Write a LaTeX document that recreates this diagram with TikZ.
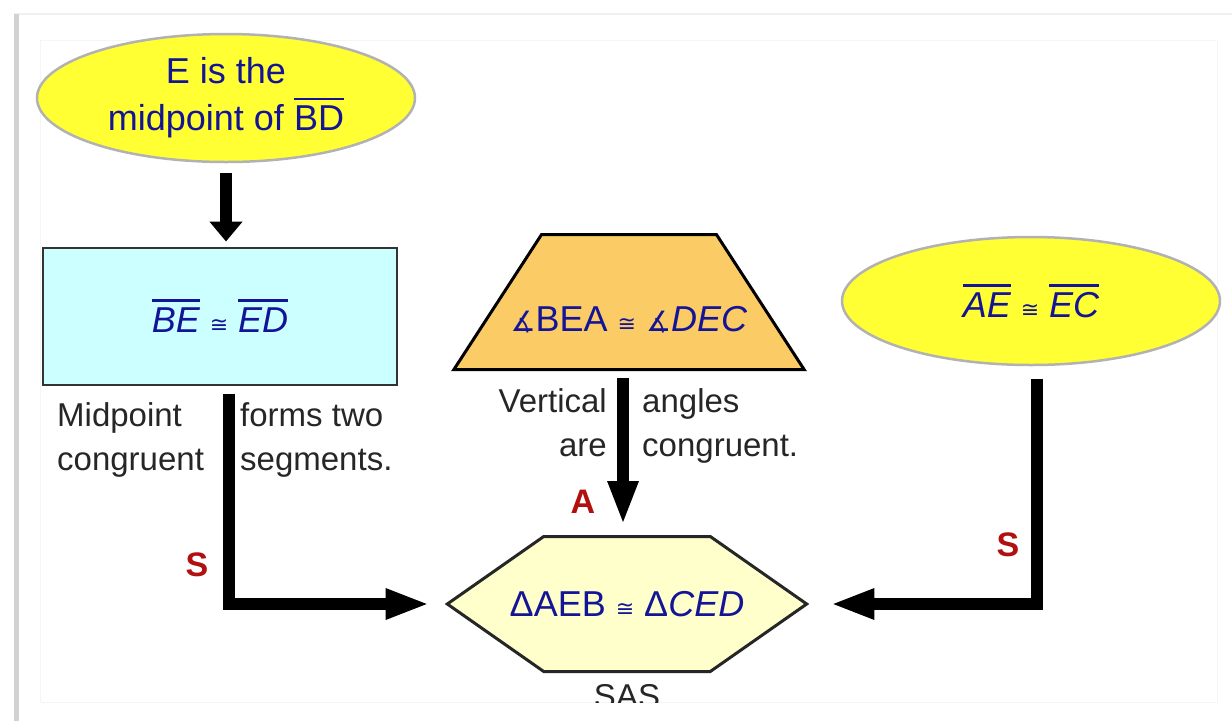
\documentclass[tikz,border=0pt]{standalone}
\usepackage{fontspec}
\setmainfont{Liberation Sans}
\newfontfamily\symfont{DejaVu Sans}
\usetikzlibrary{arrows.meta,shapes,positioning}

\definecolor{givenyellow}{RGB}{255,255,51}
\definecolor{stepcyan}{RGB}{204,255,255}
\definecolor{steporange}{RGB}{251,203,102}
\definecolor{proofcream}{RGB}{255,255,204}
\definecolor{mathblue}{RGB}{20,20,150}
\definecolor{markred}{RGB}{176,16,16}

\newcommand{\seg}[1]{\leavevmode\vbox{\hrule height 2.5pt\kern 6pt\hbox{#1}}}
\newcommand{\congsym}{{\symfont\fontsize{22}{24}\selectfont ≅}}
\newcommand{\angsym}{{\symfont\fontsize{28}{30}\selectfont ∡}}

\begin{document}
\begin{tikzpicture}[x=1pt,y=-1pt,
	basic/.style    = {draw, line width=2.5pt, inner sep=0pt, align=center, text=mathblue, font=\fontsize{36}{47}\selectfont},
	given/.style    = {basic, ellipse, fill=givenyellow, draw=gray!60, minimum width=378pt, minimum height=128pt},
	reason/.style   = {basic, rectangle, fill=stepcyan, draw=black!80, line width=2pt, minimum width=354pt, minimum height=137pt},
	anglebox/.style = {basic, trapezium, trapezium angle=57, fill=steporange, draw=black, line width=3pt, inner xsep=-31pt, text height=96.5pt, text depth=38.5pt},
	result/.style   = {basic, signal, signal to=west and east, signal pointer angle=70, fill=proofcream, draw=black!85, line width=3pt, inner xsep=-34pt, minimum height=135pt},
	note/.style     = {inner sep=0pt, text=black!85, font=\fontsize{33}{44}\selectfont},
	letter/.style   = {inner sep=0pt, text=markred, font=\bfseries\fontsize{34}{40}\selectfont},
	flow/.style     = {line width=12pt, -{Triangle[length=44pt,width=28pt]}},
	>=latex]

	\useasboundingbox (0,0) rectangle (1232,721);
	% page frame
	\draw[gray!12, line width=2pt] (14,14) -- (1232,14);
	\draw[gray!35, line width=5pt] (16,14) -- (16,721);
	\draw[gray!8, line width=1pt] (40,40) rectangle (1217,702);

	% the givens and the statements
	\node[given] (mid) at (226,98) {E is the\\midpoint of \seg{BD}};
	\node[reason] (be) at (220,316) {\seg{\itshape BE} \congsym{} \seg{\itshape ED}};
	\node[anglebox] (vert) at (629,302) {\angsym BEA \congsym{} \angsym\textit{DEC}};
	\node[given] (ae) at (1031,301) {\seg{\itshape AE} \congsym{} \seg{\itshape EC}};
	\node[result] (sas) at (627,604) {ΔAEB \congsym{} Δ\textit{CED}};

	% reasons, placed relative to the boxes
	\node[note, align=left, below right=17pt and 15pt of be.south west] (mpL) {Midpoint\\congruent};
	\node[note, align=left, below right=17pt and 20pt of be.south] (mpR) {forms two\\segments.};
	\node[note, align=right, below left=17pt and 22pt of vert.south] (vaL) {Vertical\\are};
	\node[note, align=left, below right=17pt and 13pt of vert.south] (vaR) {angles\\congruent.};

	% S, A, S
	\node[letter] (sideL) at (197,565) {S};
	\node[letter] (angA) at (583,502) {A};
	\node[letter] (sideR) at (1008,545) {S};

	\begin{scope}
		\clip (40,40) rectangle (1217,702);
		\node[note, below=11pt of sas.south] (sasnote) {SAS};
	\end{scope}

	% arrows into the next statement
	\draw[flow, -{Triangle[length=20pt,width=32pt]}, shorten <=10pt, shorten >=5pt] (mid.south) -- (mid.south |- be.north);
	\draw[flow, shorten <=8pt, shorten >=15pt] ([xshift=9pt]be.south) |- (sas.west);
	\draw[flow, shorten <=7pt, shorten >=10pt] ([xshift=-6pt]vert.south) -- ([xshift=-6pt]vert.south |- sas.north);
	\draw[flow, shorten <=13pt, shorten >=21pt] ([xshift=6pt]ae.south) |- (sas.east);

\end{tikzpicture}
\end{document}
